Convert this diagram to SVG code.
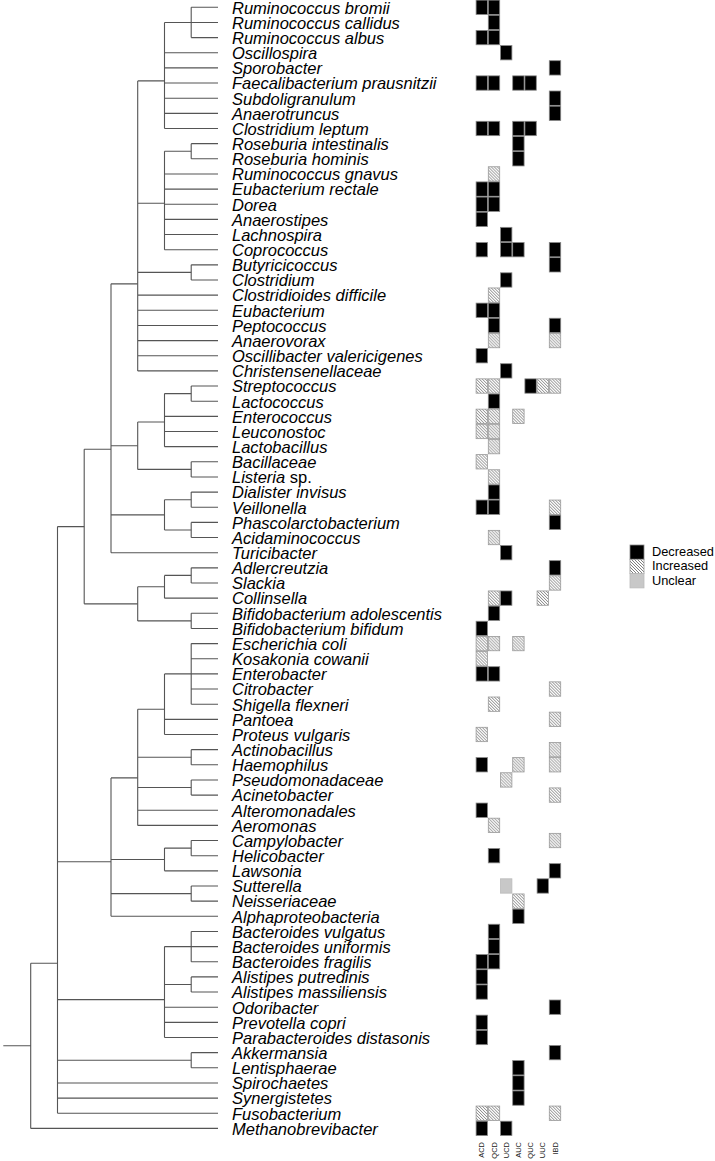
<svg xmlns="http://www.w3.org/2000/svg" xmlns:xlink="http://www.w3.org/1999/xlink" width="715" height="1161" viewBox="0 0 715 1161">
<style>
.lbl{font-family:"Liberation Sans",Arial,Helvetica,sans-serif;font-style:italic;font-size:16.5px;fill:#000}
.up{font-style:normal}
.col{font-family:"Liberation Sans",Arial,sans-serif;font-size:7.5px;fill:#222}
.leg{font-family:"Liberation Sans",Arial,sans-serif;font-size:12.8px;fill:#000}
.tree path{fill:none;stroke:#555;stroke-width:1.1}
</style>
<defs>
<pattern id="hatch" patternUnits="userSpaceOnUse" width="3" height="3">
<rect width="3" height="3" fill="#fff"/>
<path d="M0,0L3,3M-1,2L1,4M2,-1L4,1" stroke="#555" stroke-width="0.75"/>
</pattern>
<rect id="cd" width="11.4" height="14.35" fill="#000" stroke="#888" stroke-width="0.8"/>
<rect id="ci" width="11.4" height="14.35" fill="url(#hatch)" stroke="#999" stroke-width="0.8"/>
<rect id="cu" width="11.4" height="14.35" fill="#c8c8c8" stroke="#bbb" stroke-width="0.8"/>
</defs>
<rect width="715" height="1161" fill="#fff"/>
<g id="connectors" class="tree">
<path d="M191.2 7.3V37.6M191.2 7.3H218M191.2 22.45H218M191.2 37.6H218"/>
<path d="M164.5 22.45V128.5M164.5 22.45H191.2M164.5 52.75H218M164.5 67.9H218M164.5 83.05H218M164.5 98.2H218M164.5 113.35H218M164.5 128.5H218"/>
<path d="M191.2 143.65V158.8M191.2 143.65H218M191.2 158.8H218"/>
<path d="M164.5 151.2V249.7M164.5 151.2H191.2M164.5 173.95H218M164.5 189.1H218M164.5 204.25H218M164.5 219.4H218M164.5 234.55H218M164.5 249.7H218"/>
<path d="M191.2 264.85V280M191.2 264.85H218M191.2 280H218"/>
<path d="M137.7 80.9V370.9M137.7 80.9H164.5M137.7 203.2H164.5M137.7 272.4H191.2M137.7 295.15H218M137.7 310.3H218M137.7 325.45H218M137.7 340.6H218M137.7 355.75H218M137.7 370.9H218"/>
<path d="M191.2 386.05V401.2M191.2 386.05H218M191.2 401.2H218"/>
<path d="M164.5 393.6V446.65M164.5 393.6H191.2M164.5 416.35H218M164.5 431.5H218M164.5 446.65H218"/>
<path d="M191.2 461.8V476.95M191.2 461.8H218M191.2 476.95H218"/>
<path d="M137.7 422V469.4M137.7 422H164.5M137.7 469.4H191.2"/>
<path d="M191.2 492.1V507.25M191.2 492.1H218M191.2 507.25H218"/>
<path d="M191.2 522.4V537.55M191.2 522.4H218M191.2 537.55H218"/>
<path d="M164.5 499.7V530M164.5 499.7H191.2M164.5 530H191.2"/>
<path d="M111 283.85V552.7M111 283.85H137.7M111 445.7H137.7M111 514.85H164.5M111 552.7H218"/>
<path d="M191.2 567.85V583M191.2 567.85H218M191.2 583H218"/>
<path d="M164.5 575.4V598.15M164.5 575.4H191.2M164.5 598.15H218"/>
<path d="M191.2 613.3V628.45M191.2 613.3H218M191.2 628.45H218"/>
<path d="M137.7 586.8V620.9M137.7 586.8H164.5M137.7 620.9H191.2"/>
<path d="M84.2 449.3V603.85M84.2 449.3H111M84.2 603.85H137.7"/>
<path d="M191.2 643.6V704.2M191.2 643.6H218M191.2 658.75H218M191.2 673.9H218M191.2 689.05H218M191.2 704.2H218"/>
<path d="M164.5 673.9V734.5M164.5 673.9H191.2M164.5 719.35H218M164.5 734.5H218"/>
<path d="M191.2 749.65V764.8M191.2 749.65H218M191.2 764.8H218"/>
<path d="M191.2 779.95V795.1M191.2 779.95H218M191.2 795.1H218"/>
<path d="M137.7 709.25V825.4M137.7 709.25H164.5M137.7 757.2H191.2M137.7 787.5H191.2M137.7 810.25H218M137.7 825.4H218"/>
<path d="M191.2 840.55V855.7M191.2 840.55H218M191.2 855.7H218"/>
<path d="M164.5 848.1V870.85M164.5 848.1H191.2M164.5 870.85H218"/>
<path d="M191.2 886V901.15M191.2 886H218M191.2 901.15H218"/>
<path d="M111 777.9V916.3M111 777.9H137.7M111 859.5H164.5M111 893.6H191.2M111 916.3H218"/>
<path d="M191.2 931.45V961.75M191.2 931.45H218M191.2 946.6H218M191.2 961.75H218"/>
<path d="M191.2 976.9V992.05M191.2 976.9H218M191.2 992.05H218"/>
<path d="M164.5 946.6V1037.5M164.5 946.6H191.2M164.5 984.5H191.2M164.5 1007.2H218M164.5 1022.35H218M164.5 1037.5H218"/>
<path d="M191.2 1052.65V1067.8M191.2 1052.65H218M191.2 1067.8H218"/>
<path d="M57.5 526.6V1113.25M57.5 526.6H84.2M57.5 861.8H111M57.5 999.6H164.5M57.5 1060.2H191.2M57.5 1082.95H218M57.5 1098.1H218M57.5 1113.25H218"/>
<path d="M30.7 963.2V1128.4M30.7 963.2H57.5M30.7 1128.4H218M3.3 1045.8H30.7"/>
</g>
<g id="n0"><text class="lbl" x="232" y="13.6">Ruminococcus bromii</text><use href="#cd" x="476.1" y="0.1"/><use href="#cd" x="488.3" y="0.1"/></g>
<g id="n1"><text class="lbl" x="232" y="28.75">Ruminococcus callidus</text><use href="#cd" x="488.3" y="15.25"/></g>
<g id="n2"><text class="lbl" x="232" y="43.9">Ruminococcus albus</text><use href="#cd" x="476.1" y="30.4"/><use href="#cd" x="488.3" y="30.4"/></g>
<g id="n3"><text class="lbl" x="232" y="59.05">Oscillospira</text><use href="#cd" x="500.5" y="45.55"/></g>
<g id="n4"><text class="lbl" x="232" y="74.2">Sporobacter</text><use href="#cd" x="549.3" y="60.7"/></g>
<g id="n5"><text class="lbl" x="232" y="89.35">Faecalibacterium prausnitzii</text><use href="#cd" x="476.1" y="75.85"/><use href="#cd" x="488.3" y="75.85"/><use href="#cd" x="512.7" y="75.85"/><use href="#cd" x="524.9" y="75.85"/></g>
<g id="n6"><text class="lbl" x="232" y="104.5">Subdoligranulum</text><use href="#cd" x="549.3" y="91"/></g>
<g id="n7"><text class="lbl" x="232" y="119.65">Anaerotruncus</text><use href="#cd" x="549.3" y="106.15"/></g>
<g id="n8"><text class="lbl" x="232" y="134.8">Clostridium leptum</text><use href="#cd" x="476.1" y="121.3"/><use href="#cd" x="488.3" y="121.3"/><use href="#cd" x="512.7" y="121.3"/><use href="#cd" x="524.9" y="121.3"/></g>
<g id="n9"><text class="lbl" x="232" y="149.95">Roseburia intestinalis</text><use href="#cd" x="512.7" y="136.45"/></g>
<g id="n10"><text class="lbl" x="232" y="165.1">Roseburia hominis</text><use href="#cd" x="512.7" y="151.6"/></g>
<g id="n11"><text class="lbl" x="232" y="180.25">Ruminococcus gnavus</text><use href="#ci" x="488.3" y="166.75"/></g>
<g id="n12"><text class="lbl" x="232" y="195.4">Eubacterium rectale</text><use href="#cd" x="476.1" y="181.9"/><use href="#cd" x="488.3" y="181.9"/></g>
<g id="n13"><text class="lbl" x="232" y="210.55">Dorea</text><use href="#cd" x="476.1" y="197.05"/><use href="#cd" x="488.3" y="197.05"/></g>
<g id="n14"><text class="lbl" x="232" y="225.7">Anaerostipes</text><use href="#cd" x="476.1" y="212.2"/></g>
<g id="n15"><text class="lbl" x="232" y="240.85">Lachnospira</text><use href="#cd" x="500.5" y="227.35"/></g>
<g id="n16"><text class="lbl" x="232" y="256">Coprococcus</text><use href="#cd" x="476.1" y="242.5"/><use href="#cd" x="500.5" y="242.5"/><use href="#cd" x="512.7" y="242.5"/><use href="#cd" x="549.3" y="242.5"/></g>
<g id="n17"><text class="lbl" x="232" y="271.15">Butyricicoccus</text><use href="#cd" x="549.3" y="257.65"/></g>
<g id="n18"><text class="lbl" x="232" y="286.3">Clostridium</text><use href="#cd" x="500.5" y="272.8"/></g>
<g id="n19"><text class="lbl" x="232" y="301.45">Clostridioides difficile</text><use href="#ci" x="488.3" y="287.95"/></g>
<g id="n20"><text class="lbl" x="232" y="316.6">Eubacterium</text><use href="#cd" x="476.1" y="303.1"/><use href="#cd" x="488.3" y="303.1"/></g>
<g id="n21"><text class="lbl" x="232" y="331.75">Peptococcus</text><use href="#cd" x="488.3" y="318.25"/><use href="#cd" x="549.3" y="318.25"/></g>
<g id="n22"><text class="lbl" x="232" y="346.9">Anaerovorax</text><use href="#ci" x="488.3" y="333.4"/><use href="#ci" x="549.3" y="333.4"/></g>
<g id="n23"><text class="lbl" x="232" y="362.05">Oscillibacter valericigenes</text><use href="#cd" x="476.1" y="348.55"/></g>
<g id="n24"><text class="lbl" x="232" y="377.2">Christensenellaceae</text><use href="#cd" x="500.5" y="363.7"/></g>
<g id="n25"><text class="lbl" x="232" y="392.35">Streptococcus</text><use href="#ci" x="476.1" y="378.85"/><use href="#ci" x="488.3" y="378.85"/><use href="#cd" x="524.9" y="378.85"/><use href="#ci" x="537.1" y="378.85"/><use href="#ci" x="549.3" y="378.85"/></g>
<g id="n26"><text class="lbl" x="232" y="407.5">Lactococcus</text><use href="#cd" x="488.3" y="394"/></g>
<g id="n27"><text class="lbl" x="232" y="422.65">Enterococcus</text><use href="#ci" x="476.1" y="409.15"/><use href="#ci" x="488.3" y="409.15"/><use href="#ci" x="512.7" y="409.15"/></g>
<g id="n28"><text class="lbl" x="232" y="437.8">Leuconostoc</text><use href="#ci" x="476.1" y="424.3"/><use href="#ci" x="488.3" y="424.3"/></g>
<g id="n29"><text class="lbl" x="232" y="452.95">Lactobacillus</text><use href="#ci" x="488.3" y="439.45"/></g>
<g id="n30"><text class="lbl" x="232" y="468.1">Bacillaceae</text><use href="#ci" x="476.1" y="454.6"/></g>
<g id="n31"><text class="lbl" x="232" y="483.25">Listeria<tspan class="up"> sp.</tspan></text><use href="#ci" x="488.3" y="469.75"/></g>
<g id="n32"><text class="lbl" x="232" y="498.4">Dialister invisus</text><use href="#cd" x="488.3" y="484.9"/></g>
<g id="n33"><text class="lbl" x="232" y="513.55">Veillonella</text><use href="#cd" x="476.1" y="500.05"/><use href="#cd" x="488.3" y="500.05"/><use href="#ci" x="549.3" y="500.05"/></g>
<g id="n34"><text class="lbl" x="232" y="528.7">Phascolarctobacterium</text><use href="#cd" x="549.3" y="515.2"/></g>
<g id="n35"><text class="lbl" x="232" y="543.85">Acidaminococcus</text><use href="#ci" x="488.3" y="530.35"/></g>
<g id="n36"><text class="lbl" x="232" y="559">Turicibacter</text><use href="#cd" x="500.5" y="545.5"/></g>
<g id="n37"><text class="lbl" x="232" y="574.15">Adlercreutzia</text><use href="#cd" x="549.3" y="560.65"/></g>
<g id="n38"><text class="lbl" x="232" y="589.3">Slackia</text><use href="#ci" x="549.3" y="575.8"/></g>
<g id="n39"><text class="lbl" x="232" y="604.45">Collinsella</text><use href="#ci" x="488.3" y="590.95"/><use href="#cd" x="500.5" y="590.95"/><use href="#ci" x="537.1" y="590.95"/></g>
<g id="n40"><text class="lbl" x="232" y="619.6">Bifidobacterium adolescentis</text><use href="#cd" x="488.3" y="606.1"/></g>
<g id="n41"><text class="lbl" x="232" y="634.75">Bifidobacterium bifidum</text><use href="#cd" x="476.1" y="621.25"/></g>
<g id="n42"><text class="lbl" x="232" y="649.9">Escherichia coli</text><use href="#ci" x="476.1" y="636.4"/><use href="#ci" x="488.3" y="636.4"/><use href="#ci" x="512.7" y="636.4"/></g>
<g id="n43"><text class="lbl" x="232" y="665.05">Kosakonia cowanii</text><use href="#ci" x="476.1" y="651.55"/></g>
<g id="n44"><text class="lbl" x="232" y="680.2">Enterobacter</text><use href="#cd" x="476.1" y="666.7"/><use href="#cd" x="488.3" y="666.7"/></g>
<g id="n45"><text class="lbl" x="232" y="695.35">Citrobacter</text><use href="#ci" x="549.3" y="681.85"/></g>
<g id="n46"><text class="lbl" x="232" y="710.5">Shigella flexneri</text><use href="#ci" x="488.3" y="697"/></g>
<g id="n47"><text class="lbl" x="232" y="725.65">Pantoea</text><use href="#ci" x="549.3" y="712.15"/></g>
<g id="n48"><text class="lbl" x="232" y="740.8">Proteus vulgaris</text><use href="#ci" x="476.1" y="727.3"/></g>
<g id="n49"><text class="lbl" x="232" y="755.95">Actinobacillus</text><use href="#ci" x="549.3" y="742.45"/></g>
<g id="n50"><text class="lbl" x="232" y="771.1">Haemophilus</text><use href="#cd" x="476.1" y="757.6"/><use href="#ci" x="512.7" y="757.6"/><use href="#ci" x="549.3" y="757.6"/></g>
<g id="n51"><text class="lbl" x="232" y="786.25">Pseudomonadaceae</text><use href="#ci" x="500.5" y="772.75"/></g>
<g id="n52"><text class="lbl" x="232" y="801.4">Acinetobacter</text><use href="#ci" x="549.3" y="787.9"/></g>
<g id="n53"><text class="lbl" x="232" y="816.55">Alteromonadales</text><use href="#cd" x="476.1" y="803.05"/></g>
<g id="n54"><text class="lbl" x="232" y="831.7">Aeromonas</text><use href="#ci" x="488.3" y="818.2"/></g>
<g id="n55"><text class="lbl" x="232" y="846.85">Campylobacter</text><use href="#ci" x="549.3" y="833.35"/></g>
<g id="n56"><text class="lbl" x="232" y="862">Helicobacter</text><use href="#cd" x="488.3" y="848.5"/></g>
<g id="n57"><text class="lbl" x="232" y="877.15">Lawsonia</text><use href="#cd" x="549.3" y="863.65"/></g>
<g id="n58"><text class="lbl" x="232" y="892.3">Sutterella</text><use href="#cu" x="500.5" y="878.8"/><use href="#cd" x="537.1" y="878.8"/></g>
<g id="n59"><text class="lbl" x="232" y="907.45">Neisseriaceae</text><use href="#ci" x="512.7" y="893.95"/></g>
<g id="n60"><text class="lbl" x="232" y="922.6">Alphaproteobacteria</text><use href="#cd" x="512.7" y="909.1"/></g>
<g id="n61"><text class="lbl" x="232" y="937.75">Bacteroides vulgatus</text><use href="#cd" x="488.3" y="924.25"/></g>
<g id="n62"><text class="lbl" x="232" y="952.9">Bacteroides uniformis</text><use href="#cd" x="488.3" y="939.4"/></g>
<g id="n63"><text class="lbl" x="232" y="968.05">Bacteroides fragilis</text><use href="#cd" x="476.1" y="954.55"/><use href="#cd" x="488.3" y="954.55"/></g>
<g id="n64"><text class="lbl" x="232" y="983.2">Alistipes putredinis</text><use href="#cd" x="476.1" y="969.7"/></g>
<g id="n65"><text class="lbl" x="232" y="998.35">Alistipes massiliensis</text><use href="#cd" x="476.1" y="984.85"/></g>
<g id="n66"><text class="lbl" x="232" y="1013.5">Odoribacter</text><use href="#cd" x="549.3" y="1000"/></g>
<g id="n67"><text class="lbl" x="232" y="1028.65">Prevotella copri</text><use href="#cd" x="476.1" y="1015.15"/></g>
<g id="n68"><text class="lbl" x="232" y="1043.8">Parabacteroides distasonis</text><use href="#cd" x="476.1" y="1030.3"/></g>
<g id="n69"><text class="lbl" x="232" y="1058.95">Akkermansia</text><use href="#cd" x="549.3" y="1045.45"/></g>
<g id="n70"><text class="lbl" x="232" y="1074.1">Lentisphaerae</text><use href="#cd" x="512.7" y="1060.6"/></g>
<g id="n71"><text class="lbl" x="232" y="1089.25">Spirochaetes</text><use href="#cd" x="512.7" y="1075.75"/></g>
<g id="n72"><text class="lbl" x="232" y="1104.4">Synergistetes</text><use href="#cd" x="512.7" y="1090.9"/></g>
<g id="n73"><text class="lbl" x="232" y="1119.55">Fusobacterium</text><use href="#ci" x="476.1" y="1106.05"/><use href="#ci" x="488.3" y="1106.05"/><use href="#ci" x="549.3" y="1106.05"/></g>
<g id="n74"><text class="lbl" x="232" y="1134.7">Methanobrevibacter</text><use href="#cd" x="476.1" y="1121.2"/><use href="#cd" x="500.5" y="1121.2"/></g>
<g id="columns">
<text class="col" text-anchor="end" transform="translate(484.4 1142) rotate(-90)">ACD</text>
<text class="col" text-anchor="end" transform="translate(496.6 1142) rotate(-90)">QCD</text>
<text class="col" text-anchor="end" transform="translate(508.8 1142) rotate(-90)">UCD</text>
<text class="col" text-anchor="end" transform="translate(521 1142) rotate(-90)">AUC</text>
<text class="col" text-anchor="end" transform="translate(533.2 1142) rotate(-90)">QUC</text>
<text class="col" text-anchor="end" transform="translate(545.4 1142) rotate(-90)">UUC</text>
<text class="col" text-anchor="end" transform="translate(557.6 1142) rotate(-90)">IBD</text>
</g>
<g id="legend">
<rect x="630" y="545" width="14" height="14.3" fill="#000" stroke="#888" stroke-width="0.8"/>
<rect x="630" y="559.3" width="14" height="14.3" fill="url(#hatch)" stroke="#999" stroke-width="0.8"/>
<rect x="630" y="573.6" width="14" height="14.3" fill="#c8c8c8" stroke="#bbb" stroke-width="0.8"/>
<text class="leg" x="652" y="556">Decreased</text>
<text class="leg" x="652" y="570.3">Increased</text>
<text class="leg" x="652" y="584.6">Unclear</text>
</g>
</svg>
